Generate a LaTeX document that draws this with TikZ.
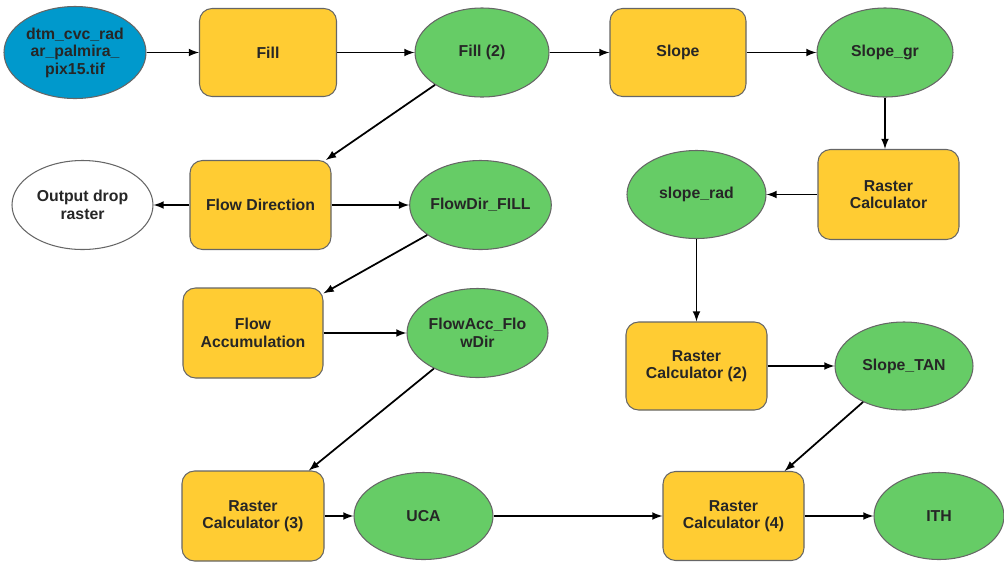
\documentclass[tikz,border=0pt]{standalone}
\usepackage{fontspec}
\setmainfont{Liberation Sans}
\usepackage{tikz}
\usetikzlibrary{shapes.geometric}
\usetikzlibrary{positioning}
\definecolor{toolyellow}{HTML}{FFCC33}
\definecolor{datagreen}{HTML}{66CC66}
\definecolor{inblue}{HTML}{0099CC}
\tikzset{every picture/.style={line width=1pt}}

\begin{document}
\begin{tikzpicture}[every node/.style={font=\fontsize{9}{10}\selectfont\bfseries, align=center, text=black!85},
  tool/.style={draw=black!60, line width=0.6pt, fill=toolyellow, rounded corners=0.25cm, minimum width=2.8cm, minimum height=1.78cm},
  data/.style={ellipse, draw=black!60, line width=0.6pt, fill=datagreen, inner sep=0pt, minimum width=2.78cm, minimum height=1.78cm}]
\useasboundingbox (0,0) rectangle (20.08,-11.22);

\node (dtm) at (1.50,-1.05) [data, fill=inblue, minimum width=2.84cm, minimum height=1.84cm] {dtm\_cvc\_rad\\ar\_palmira\_\\pix15.tif};
\node (fill) at (5.36,-1.05) [tool, minimum width=2.74cm, minimum height=1.76cm] {Fill};
\node (fill2) at (9.64,-1.05) [data, minimum width=2.68cm] {Fill (2)};
\node (slope) at (13.56,-1.05) [tool, minimum width=2.72cm, minimum height=1.76cm] {Slope};
\node (slopegr) at (17.70,-1.05) [data, minimum width=2.72cm] {Slope\_gr};

\node (outdrop) at (1.65,-4.10) [data, fill=white, minimum width=2.82cm] {Output drop\\raster};
\node (flowdir) at (5.21,-4.10) [tool, minimum width=2.82cm] {Flow Direction};
\node (flowdirfill) at (9.61,-4.10) [data, minimum width=2.82cm] {FlowDir\_FILL};
\node (sloperad) at (13.93,-3.89) [data, minimum height=1.76cm] {slope\_rad};
\node (rc) at (17.77,-3.89) [tool, minimum width=2.82cm, minimum height=1.80cm] {Raster\\Calculator};

\node (flowacc) at (5.06,-6.66) [tool, minimum height=1.80cm] {Flow\\Accumulation};
\node (flowaccfd) at (9.55,-6.66) [data, minimum width=2.82cm] {FlowAcc\_Flo\\wDir};
\node (rc2) at (13.93,-7.32) [tool, minimum width=2.82cm, minimum height=1.76cm] {Raster\\Calculator (2)};
\node (slopetan) at (18.08,-7.32) [data, minimum width=2.76cm, minimum height=1.76cm] {Slope\_TAN};

\node (rc3) at (5.06,-10.32) [tool, minimum width=2.84cm, minimum height=1.80cm] {Raster\\Calculator (3)};
\node (uca) at (8.47,-10.32) [data, minimum height=1.74cm] {UCA};
\node (rc4) at (14.67,-10.32) [tool, minimum width=2.82cm] {Raster\\Calculator (4)};
\node (ith) at (18.78,-10.32) [data, minimum width=2.60cm, minimum height=1.74cm] {ITH};

\draw [-latex] (dtm) -- (fill);
\draw [-latex] (fill) -- (fill2);
\draw [-latex] (fill2) -- (slope);
\draw [-latex] (slope) -- (slopegr);
\draw [-latex] (fill2) -- (flowdir);
\draw [-latex] (flowdir) -- (outdrop);
\draw [-latex] (flowdir) -- (flowdirfill);
\draw [-latex] (flowdirfill) -- (flowacc);
\draw [-latex] (flowacc) -- (flowaccfd);
\draw [-latex] (flowaccfd) -- (rc3);
\draw [-latex] (rc3) -- (uca);
\draw [-latex] (uca) -- (rc4);
\draw [-latex] (rc4) -- (ith);
\draw [-latex] (slopegr) -- (slopegr |- rc.north);
\draw [-latex] (rc) -- (sloperad);
\draw [-latex] (sloperad) -- (sloperad |- rc2.north);
\draw [-latex] (rc2) -- (rc2 -| slopetan.west);
\draw [-latex] (slopetan) -- (rc4);
\end{tikzpicture}
\end{document}
